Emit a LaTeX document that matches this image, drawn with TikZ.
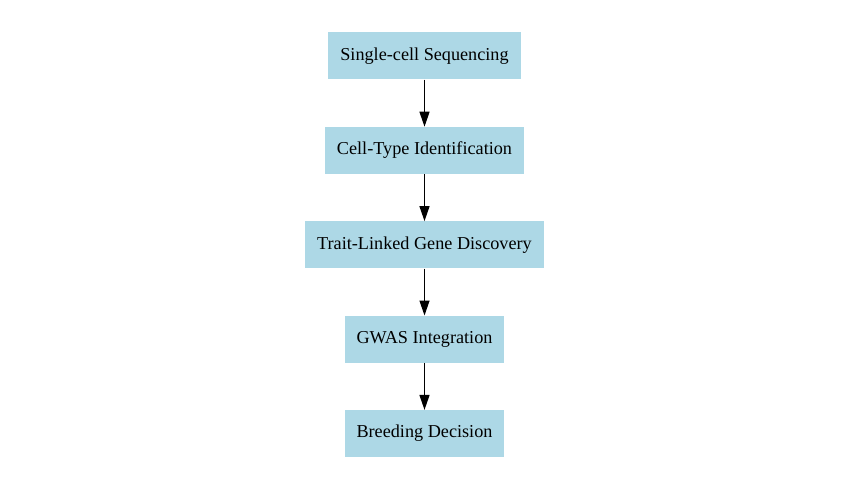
\documentclass[tikz,border=0pt]{standalone}
\usepackage{fontspec}
\setmainfont{Liberation Serif}
\usepackage{tikz}
\usetikzlibrary{arrows.meta,positioning}
\definecolor{boxblue}{HTML}{ADD8E6}

\tikzset{
  stagebox/.style={fill=boxblue, draw=none, inner xsep=12pt, minimum height=47pt,
    font=\fontsize{18.2}{22}\selectfont},
  flowarrow/.style={-{Triangle[length=15pt,width=10pt]}, line width=1.3pt, black}
}

\begin{document}
\begin{tikzpicture}[node distance=47pt]
\useasboundingbox (0,0) rectangle (845pt,-486pt);
\node[stagebox] (seq) at (424.5pt,-56pt) {Single-cell Sequencing};
\node[stagebox, below=of seq] (celltype) {Cell-Type Identification};
\node[stagebox, below=of celltype] (genes) {Trait-Linked Gene Discovery};
\node[stagebox, below=of genes] (gwas) {GWAS Integration};
\node[stagebox, below=of gwas] (breed) {Breeding Decision};

\draw[flowarrow] (seq) -- (celltype);
\draw[flowarrow] (celltype) -- (genes);
\draw[flowarrow] (genes) -- (gwas);
\draw[flowarrow] (gwas) -- (breed);
\end{tikzpicture}
\end{document}
